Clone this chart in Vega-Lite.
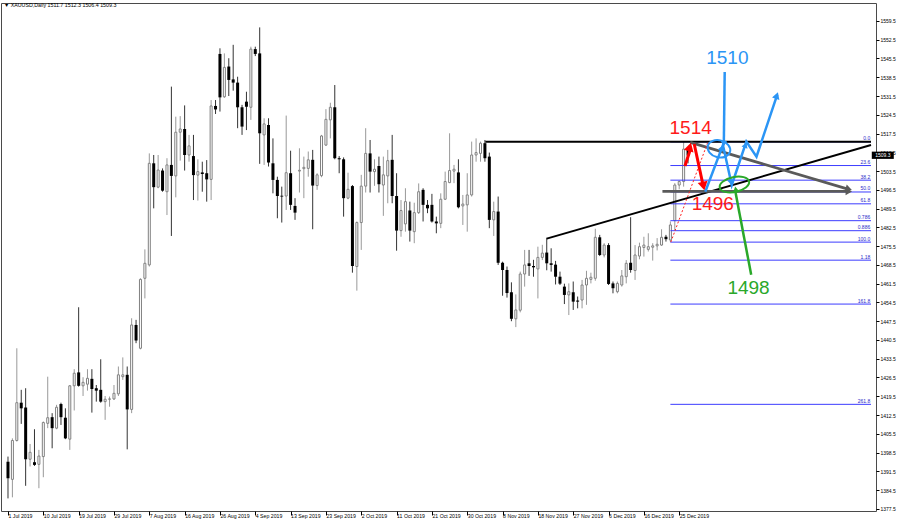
{
"$schema":"https://vega.github.io/schema/vega-lite/v6.json",
"width":875,"height":508,
"autosize":{"type":"none"},
"padding":{"left":1,"top":3,"right":24,"bottom":14},
"background":"#ffffff",
"config":{"view":{"stroke":"#4a4a4a","strokeWidth":1},"font":"Liberation Sans"},
"title":{"text":"▼ XAUUSD,Daily  1511.7 1512.3 1506.4 1509.3","anchor":"start","frame":"group","offset":-5,"dx":3,"fontSize":5.3,"fontWeight":"normal","color":"#000000","font":"Liberation Sans"},
"datasets":{
"candles":[
{"t":0,"o":1395.1,"h":1397.0,"l":1381.4,"c":1388.9},
{"t":1,"o":1388.5,"h":1403.8,"l":1381.8,"c":1403.0},
{"t":2,"o":1403.0,"h":1437.4,"l":1402.6,"c":1417.1},
{"t":3,"o":1417.1,"h":1421.9,"l":1409.2,"c":1415.0},
{"t":4,"o":1415.3,"h":1422.5,"l":1386.1,"c":1396.0},
{"t":5,"o":1396.0,"h":1401.7,"l":1393.3,"c":1398.6},
{"t":6,"o":1394.9,"h":1407.2,"l":1393.5,"c":1393.9},
{"t":7,"o":1394.1,"h":1399.5,"l":1385.2,"c":1397.2},
{"t":8,"o":1397.0,"h":1410.1,"l":1389.3,"c":1409.7},
{"t":9,"o":1409.4,"h":1426.8,"l":1407.6,"c":1411.5},
{"t":10,"o":1411.7,"h":1413.2,"l":1400.1,"c":1407.6},
{"t":11,"o":1407.6,"h":1416.3,"l":1407.2,"c":1415.4},
{"t":12,"o":1416.6,"h":1417.1,"l":1408.8,"c":1411.7},
{"t":13,"o":1411.5,"h":1415.0,"l":1403.5,"c":1403.8},
{"t":14,"o":1403.5,"h":1423.7,"l":1399.5,"c":1423.4},
{"t":15,"o":1423.4,"h":1429.6,"l":1414.2,"c":1428.1},
{"t":16,"o":1428.4,"h":1452.7,"l":1423.1,"c":1423.4},
{"t":17,"o":1423.4,"h":1426.6,"l":1419.6,"c":1424.7},
{"t":18,"o":1424.0,"h":1429.6,"l":1421.6,"c":1426.2},
{"t":19,"o":1426.0,"h":1429.6,"l":1413.4,"c":1422.2},
{"t":20,"o":1422.5,"h":1423.7,"l":1417.5,"c":1421.6},
{"t":21,"o":1421.9,"h":1433.3,"l":1417.1,"c":1417.5},
{"t":22,"o":1417.5,"h":1419.6,"l":1410.7,"c":1418.4},
{"t":23,"o":1418.4,"h":1419.4,"l":1415.6,"c":1418.5},
{"t":24,"o":1418.5,"h":1423.7,"l":1418.1,"c":1420.6},
{"t":25,"o":1420.4,"h":1430.6,"l":1419.6,"c":1427.5},
{"t":26,"o":1426.8,"h":1434.0,"l":1425.6,"c":1427.5},
{"t":27,"o":1427.5,"h":1430.6,"l":1399.7,"c":1414.6},
{"t":28,"o":1414.6,"h":1448.6,"l":1413.2,"c":1446.1},
{"t":29,"o":1446.1,"h":1448.0,"l":1439.3,"c":1440.3},
{"t":30,"o":1437.4,"h":1463.5,"l":1437.0,"c":1463.1},
{"t":31,"o":1463.5,"h":1474.3,"l":1456.0,"c":1469.1},
{"t":32,"o":1468.5,"h":1510.1,"l":1467.9,"c":1506.4},
{"t":33,"o":1506.4,"h":1509.5,"l":1489.6,"c":1497.5},
{"t":34,"o":1497.5,"h":1509.5,"l":1497.1,"c":1503.9},
{"t":35,"o":1503.7,"h":1504.5,"l":1495.8,"c":1496.2},
{"t":36,"o":1495.8,"h":1508.3,"l":1487.1,"c":1505.8},
{"t":37,"o":1505.8,"h":1535.0,"l":1479.3,"c":1501.7},
{"t":38,"o":1501.7,"h":1523.8,"l":1493.7,"c":1518.0},
{"t":39,"o":1518.0,"h":1524.0,"l":1507.4,"c":1519.2},
{"t":40,"o":1519.2,"h":1528.0,"l":1503.7,"c":1509.5},
{"t":41,"o":1509.5,"h":1517.0,"l":1507.0,"c":1512.9},
{"t":42,"o":1509.1,"h":1517.0,"l":1492.7,"c":1502.0},
{"t":43,"o":1502.0,"h":1507.9,"l":1492.5,"c":1503.3},
{"t":44,"o":1503.0,"h":1507.0,"l":1495.8,"c":1502.4},
{"t":45,"o":1502.7,"h":1507.6,"l":1492.1,"c":1500.4},
{"t":46,"o":1500.4,"h":1530.0,"l":1492.7,"c":1527.8},
{"t":47,"o":1527.8,"h":1530.0,"l":1524.8,"c":1526.5},
{"t":48,"o":1547.2,"h":1549.3,"l":1525.7,"c":1531.0},
{"t":49,"o":1531.2,"h":1547.4,"l":1530.8,"c":1542.2},
{"t":50,"o":1542.5,"h":1545.6,"l":1531.5,"c":1537.5},
{"t":51,"o":1537.7,"h":1550.6,"l":1533.5,"c":1536.5},
{"t":52,"o":1536.5,"h":1538.7,"l":1519.5,"c":1527.3},
{"t":53,"o":1527.3,"h":1528.2,"l":1517.0,"c":1520.1},
{"t":54,"o":1529.4,"h":1533.1,"l":1518.8,"c":1527.5},
{"t":55,"o":1527.3,"h":1549.9,"l":1522.6,"c":1549.0},
{"t":56,"o":1549.0,"h":1549.9,"l":1546.4,"c":1547.2},
{"t":57,"o":1547.4,"h":1557.1,"l":1506.2,"c":1517.6},
{"t":58,"o":1517.0,"h":1523.2,"l":1505.8,"c":1521.1},
{"t":59,"o":1520.7,"h":1523.2,"l":1505.2,"c":1506.7},
{"t":60,"o":1506.4,"h":1515.7,"l":1495.2,"c":1500.2},
{"t":61,"o":1500.2,"h":1501.4,"l":1485.9,"c":1494.2},
{"t":62,"o":1494.3,"h":1497.7,"l":1484.3,"c":1494.0},
{"t":63,"o":1494.2,"h":1524.2,"l":1489.0,"c":1502.9},
{"t":64,"o":1502.7,"h":1511.1,"l":1489.0,"c":1490.9},
{"t":65,"o":1490.5,"h":1493.4,"l":1485.3,"c":1488.0},
{"t":66,"o":1503.5,"h":1512.0,"l":1495.5,"c":1503.8},
{"t":67,"o":1504.4,"h":1508.9,"l":1493.4,"c":1504.9},
{"t":68,"o":1504.5,"h":1510.8,"l":1501.4,"c":1507.7},
{"t":69,"o":1507.7,"h":1511.4,"l":1481.8,"c":1498.1},
{"t":70,"o":1498.1,"h":1502.7,"l":1496.5,"c":1502.1},
{"t":71,"o":1501.8,"h":1517.0,"l":1501.2,"c":1516.6},
{"t":72,"o":1513.2,"h":1526.6,"l":1512.9,"c":1522.8},
{"t":73,"o":1522.6,"h":1529.0,"l":1515.7,"c":1527.3},
{"t":74,"o":1527.3,"h":1535.6,"l":1507.9,"c":1508.3},
{"t":75,"o":1508.3,"h":1509.1,"l":1502.7,"c":1507.9},
{"t":76,"o":1507.9,"h":1508.6,"l":1486.5,"c":1493.4},
{"t":77,"o":1493.4,"h":1502.9,"l":1493.0,"c":1496.7},
{"t":78,"o":1497.9,"h":1498.3,"l":1465.6,"c":1468.1},
{"t":79,"o":1467.9,"h":1484.7,"l":1458.9,"c":1484.3},
{"t":80,"o":1484.3,"h":1502.1,"l":1474.1,"c":1497.9},
{"t":81,"o":1497.9,"h":1519.5,"l":1495.5,"c":1510.1},
{"t":82,"o":1510.1,"h":1515.1,"l":1495.5,"c":1503.3},
{"t":83,"o":1503.3,"h":1507.9,"l":1498.0,"c":1504.2},
{"t":84,"o":1505.4,"h":1508.9,"l":1495.5,"c":1498.6},
{"t":85,"o":1498.3,"h":1508.9,"l":1486.8,"c":1502.1},
{"t":86,"o":1501.7,"h":1511.4,"l":1491.5,"c":1507.4},
{"t":87,"o":1507.7,"h":1517.0,"l":1491.5,"c":1494.2},
{"t":88,"o":1494.2,"h":1502.7,"l":1473.8,"c":1481.3},
{"t":89,"o":1481.3,"h":1492.7,"l":1479.0,"c":1488.8},
{"t":90,"o":1483.8,"h":1497.1,"l":1480.9,"c":1492.1},
{"t":91,"o":1488.8,"h":1492.1,"l":1477.2,"c":1481.3},
{"t":92,"o":1480.9,"h":1491.7,"l":1476.6,"c":1488.0},
{"t":93,"o":1488.0,"h":1498.9,"l":1487.5,"c":1495.8},
{"t":94,"o":1496.5,"h":1497.1,"l":1484.7,"c":1490.9},
{"t":95,"o":1490.9,"h":1492.7,"l":1487.8,"c":1489.6},
{"t":96,"o":1490.9,"h":1495.0,"l":1484.3,"c":1484.7},
{"t":97,"o":1484.7,"h":1486.5,"l":1480.3,"c":1484.0},
{"t":98,"o":1484.0,"h":1495.2,"l":1482.2,"c":1493.0},
{"t":99,"o":1493.0,"h":1503.3,"l":1492.7,"c":1499.6},
{"t":100,"o":1499.2,"h":1517.6,"l":1499.0,"c":1503.7},
{"t":101,"o":1503.5,"h":1505.8,"l":1499.0,"c":1504.2},
{"t":102,"o":1503.0,"h":1507.9,"l":1489.6,"c":1490.0},
{"t":103,"o":1490.5,"h":1494.6,"l":1483.4,"c":1491.2},
{"t":104,"o":1490.9,"h":1502.7,"l":1480.9,"c":1494.6},
{"t":105,"o":1494.6,"h":1514.5,"l":1494.0,"c":1509.5},
{"t":106,"o":1509.5,"h":1515.7,"l":1507.0,"c":1510.4},
{"t":107,"o":1510.1,"h":1514.5,"l":1507.0,"c":1513.9},
{"t":108,"o":1513.9,"h":1515.1,"l":1507.0,"c":1508.3},
{"t":109,"o":1508.9,"h":1510.4,"l":1482.2,"c":1485.3},
{"t":110,"o":1485.3,"h":1492.1,"l":1479.3,"c":1488.4},
{"t":111,"o":1488.4,"h":1494.0,"l":1468.5,"c":1469.3},
{"t":112,"o":1469.3,"h":1469.7,"l":1457.0,"c":1466.6},
{"t":113,"o":1466.6,"h":1467.9,"l":1456.3,"c":1458.0},
{"t":114,"o":1458.3,"h":1462.0,"l":1447.5,"c":1448.4},
{"t":115,"o":1448.4,"h":1457.5,"l":1445.3,"c":1451.7},
{"t":116,"o":1451.6,"h":1466.0,"l":1450.8,"c":1465.1},
{"t":117,"o":1465.1,"h":1474.1,"l":1460.4,"c":1468.5},
{"t":118,"o":1469.1,"h":1474.1,"l":1464.4,"c":1468.1},
{"t":119,"o":1468.1,"h":1470.4,"l":1464.1,"c":1467.6},
{"t":120,"o":1467.0,"h":1475.3,"l":1456.0,"c":1471.3},
{"t":121,"o":1471.3,"h":1476.0,"l":1470.3,"c":1472.9},
{"t":122,"o":1473.1,"h":1478.6,"l":1466.5,"c":1469.1},
{"t":123,"o":1469.1,"h":1474.7,"l":1466.0,"c":1468.5},
{"t":124,"o":1468.6,"h":1470.0,"l":1461.2,"c":1464.1},
{"t":125,"o":1464.1,"h":1466.0,"l":1461.0,"c":1461.5},
{"t":126,"o":1460.4,"h":1461.5,"l":1453.9,"c":1457.3},
{"t":127,"o":1457.3,"h":1461.6,"l":1449.8,"c":1458.5},
{"t":128,"o":1458.3,"h":1462.3,"l":1451.7,"c":1454.8},
{"t":129,"o":1455.2,"h":1456.7,"l":1452.3,"c":1454.8},
{"t":130,"o":1455.4,"h":1462.9,"l":1452.3,"c":1461.0},
{"t":131,"o":1461.0,"h":1466.3,"l":1453.6,"c":1463.5},
{"t":132,"o":1463.1,"h":1465.6,"l":1461.6,"c":1463.9},
{"t":133,"o":1463.5,"h":1482.0,"l":1462.6,"c":1478.8},
{"t":134,"o":1478.8,"h":1479.7,"l":1471.8,"c":1472.2},
{"t":135,"o":1472.2,"h":1476.6,"l":1471.3,"c":1475.9},
{"t":136,"o":1475.9,"h":1476.6,"l":1461.0,"c":1461.4},
{"t":137,"o":1461.6,"h":1462.3,"l":1457.9,"c":1459.8},
{"t":138,"o":1458.5,"h":1462.3,"l":1457.9,"c":1461.6},
{"t":139,"o":1461.0,"h":1466.6,"l":1460.4,"c":1464.4},
{"t":140,"o":1464.1,"h":1470.3,"l":1461.6,"c":1469.1},
{"t":141,"o":1469.3,"h":1486.3,"l":1465.6,"c":1466.6},
{"t":142,"o":1466.4,"h":1475.9,"l":1462.9,"c":1472.2},
{"t":143,"o":1471.8,"h":1476.8,"l":1470.6,"c":1475.3},
{"t":144,"o":1475.0,"h":1479.0,"l":1471.6,"c":1475.9},
{"t":145,"o":1474.3,"h":1480.3,"l":1473.5,"c":1475.3},
{"t":146,"o":1475.1,"h":1476.6,"l":1470.1,"c":1475.6},
{"t":147,"o":1475.6,"h":1478.5,"l":1473.9,"c":1476.2},
{"t":148,"o":1475.9,"h":1481.8,"l":1475.6,"c":1478.8},
{"t":149,"o":1479.0,"h":1479.7,"l":1477.2,"c":1478.1},
{"t":150,"o":1477.8,"h":1484.7,"l":1477.0,"c":1483.4},
{"t":151,"o":1485.0,"h":1499.0,"l":1481.5,"c":1498.3},
{"t":152,"o":1498.3,"h":1500.0,"l":1496.7,"c":1499.6},
{"t":153,"o":1499.6,"h":1514.4,"l":1497.7,"c":1511.7},
{"t":154,"o":1511.7,"h":1512.3,"l":1506.4,"c":1509.3}
],
"fib":[
{"lvl":"0.0","p":1514.4,"t":195.43,"t0":150.0},
{"lvl":"23.6","p":1505.57,"t":195.43,"t0":150.0},
{"lvl":"38.2","p":1500.11,"t":195.43,"t0":150.0},
{"lvl":"50.0","p":1495.7,"t":195.43,"t0":150.0},
{"lvl":"61.8","p":1491.29,"t":195.43,"t0":150.0},
{"lvl":"0.786","p":1485.0,"t":195.43,"t0":150.0},
{"lvl":"0.886","p":1481.26,"t":195.43,"t0":150.0},
{"lvl":"100.0","p":1477.0,"t":195.43,"t0":150.0},
{"lvl":"1.18","p":1470.27,"t":195.43,"t0":150.0},
{"lvl":"161.8","p":1453.89,"t":195.43,"t0":150.0},
{"lvl":"261.8","p":1416.49,"t":195.43,"t0":150.0}
],
"lines":[
{"g":"res","t":108.1,"p":1514.4},{"g":"res","t":195.43,"p":1514.4},
{"g":"trend","t":122.0,"p":1478.3},{"g":"trend","t":195.43,"p":1513.2},
{"g":"gd","t":154.5,"p":1514.2},{"g":"gd","t":190.6,"p":1496.6},
{"g":"gh","t":148.2,"p":1495.9},{"g":"gh","t":190.6,"p":1495.9},
{"g":"ru","t":153.3,"p":1505.4},{"g":"ru","t":154.6,"p":1512.0},
{"g":"rd","t":155.4,"p":1513.6},{"g":"rd","t":157.3,"p":1499.0},
{"g":"rdot","t":150.1,"p":1477.0},{"g":"rdot","t":158.5,"p":1514.4},
{"g":"bz","t":157.9,"p":1495.8},{"g":"bz","t":161.9,"p":1513.2},{"g":"bz","t":163.9,"p":1498.3},{"g":"bz","t":167.2,"p":1514.5},{"g":"bz","t":169.5,"p":1508.9},{"g":"bz","t":174.2,"p":1532.0},
{"g":"bv","t":162.3,"p":1540.5},{"g":"bv","t":162.1,"p":1513.5},
{"g":"gr","t":164.7,"p":1496.0},{"g":"gr","t":168.3,"p":1464.8}
],
"heads":[
{"id":"gh","t":190.4,"p":1495.9},
{"id":"gd","t":190.4,"p":1496.8},
{"id":"ru","t":154.4,"p":1512.5},
{"id":"rd","t":157.5,"p":1497.9},
{"id":"b7","t":174.1,"p":1531.7},
{"id":"b5","t":167.0,"p":1513.2},
{"id":"b2","t":161.6,"p":1512.1},
{"id":"b4","t":163.7,"p":1499.3},
{"id":"bv","t":162.1,"p":1513.7},
{"id":"gr","t":164.8,"p":1496.6}
],
"rings":[
{"id":"blue","t":161.0,"p":1511.8},
{"id":"green","t":164.5,"p":1498.5}
],
"notes":[
{"s":"1514","k":"red","t":154.6,"p":1519.4},
{"s":"1496","k":"red","t":159.6,"p":1491.1},
{"s":"1510","k":"blue","t":162.9,"p":1545.7},
{"s":"1498","k":"green","t":167.7,"p":1459.9}
],
"last":[{"p":1509.4,"s":"1509.3","t":198.1}]
},
"encoding":{
"x":{"field":"t","type":"quantitative","scale":{"domain":[-0.45,195.43],"nice":false,"zero":false},
 "axis":{"values":[0,8,16,24,32,40,48,56,64,72,80,88,96,104,112,120,128,136,144,152],
 "labelExpr":"['1 Jul 2019','10 Jul 2019','19 Jul 2019','29 Jul 2019','7 Aug 2019','16 Aug 2019','26 Aug 2019','4 Sep 2019','13 Sep 2019','23 Sep 2019','2 Oct 2019','11 Oct 2019','21 Oct 2019','30 Oct 2019','8 Nov 2019','18 Nov 2019','27 Nov 2019','6 Dec 2019','16 Dec 2019','25 Dec 2019'][round(datum.value/8)]",
 "labelAlign":"left","labelBaseline":"top","labelPadding":-2,"labelDx":1,"tickSize":4,"tickColor":"#000000","labelColor":"#000000","labelFontSize":5.2,"labelFont":"Liberation Sans","domain":false,"grid":false,"title":null,"labelOverlap":false,"labelFlush":false,"labelBound":false}},
"y":{"field":"p","type":"quantitative","scale":{"domain":[1376.7,1566.2],"nice":false,"zero":false},
 "axis":{"orient":"right","values":[1377.5,1384.5,1391.5,1398.5,1405.5,1412.5,1419.5,1426.5,1433.5,1440.5,1447.5,1454.5,1461.5,1468.5,1475.5,1482.5,1489.5,1496.5,1503.5,1510.5,1517.5,1524.5,1531.5,1538.5,1545.5,1552.5,1559.5],
 "format":".1f","labelFontSize":5,"labelFont":"Liberation Sans","labelColor":"#000000","tickColor":"#000000","tickSize":3,"labelPadding":1,"labelBaseline":"middle","domain":false,"grid":false,"title":null,"labelOverlap":false,"labelFlush":false,"labelBound":false}}
},
"layer":[
{"data":{"name":"candles"},"mark":{"type":"rule","strokeWidth":1},
 "encoding":{
 "y":{"field":"l","type":"quantitative","scale":{"domain":[1376.7,1566.2],"nice":false,"zero":false},
 "axis":{"orient":"right","values":[1377.5,1384.5,1391.5,1398.5,1405.5,1412.5,1419.5,1426.5,1433.5,1440.5,1447.5,1454.5,1461.5,1468.5,1475.5,1482.5,1489.5,1496.5,1503.5,1510.5,1517.5,1524.5,1531.5,1538.5,1545.5,1552.5,1559.5],
 "format":".1f","labelFontSize":5,"labelFont":"Liberation Sans","labelColor":"#000000","tickColor":"#000000","tickSize":3,"labelPadding":1,"labelBaseline":"middle","domain":false,"grid":false,"title":null,"labelOverlap":false,"labelFlush":false,"labelBound":false}},
 "y2":{"field":"h"},
 "color":{"condition":{"test":"datum.c >= datum.o","value":"#999999"},"value":"#333333"}}},
{"data":{"name":"candles"},"transform":[{"filter":"datum.c >= datum.o"}],"mark":{"type":"bar","size":2,"fill":"#ffffff","stroke":"#808080","strokeWidth":1},
 "encoding":{"y":{"field":"o","type":"quantitative","scale":{"domain":[1376.7,1566.2],"nice":false,"zero":false},
 "axis":{"orient":"right","values":[1377.5,1384.5,1391.5,1398.5,1405.5,1412.5,1419.5,1426.5,1433.5,1440.5,1447.5,1454.5,1461.5,1468.5,1475.5,1482.5,1489.5,1496.5,1503.5,1510.5,1517.5,1524.5,1531.5,1538.5,1545.5,1552.5,1559.5],
 "format":".1f","labelFontSize":5,"labelFont":"Liberation Sans","labelColor":"#000000","tickColor":"#000000","tickSize":3,"labelPadding":1,"labelBaseline":"middle","domain":false,"grid":false,"title":null,"labelOverlap":false,"labelFlush":false,"labelBound":false}},"y2":{"field":"c"}}},
{"data":{"name":"candles"},"transform":[{"filter":"datum.c < datum.o"}],"mark":{"type":"bar","size":3,"fill":"#000000"},
 "encoding":{"y":{"field":"o","type":"quantitative","scale":{"domain":[1376.7,1566.2],"nice":false,"zero":false},
 "axis":{"orient":"right","values":[1377.5,1384.5,1391.5,1398.5,1405.5,1412.5,1419.5,1426.5,1433.5,1440.5,1447.5,1454.5,1461.5,1468.5,1475.5,1482.5,1489.5,1496.5,1503.5,1510.5,1517.5,1524.5,1531.5,1538.5,1545.5,1552.5,1559.5],
 "format":".1f","labelFontSize":5,"labelFont":"Liberation Sans","labelColor":"#000000","tickColor":"#000000","tickSize":3,"labelPadding":1,"labelBaseline":"middle","domain":false,"grid":false,"title":null,"labelOverlap":false,"labelFlush":false,"labelBound":false}},"y2":{"field":"c"}}},
{"data":{"name":"fib"},"mark":{"type":"rule","color":"#3c3cff","strokeWidth":1},
 "encoding":{"x2":{"field":"t0"}}},
{"data":{"name":"fib"},"mark":{"type":"text","align":"right","baseline":"bottom","dx":-0.8,"dy":-0.5,"fontSize":5,"color":"#2a2ac8","font":"Liberation Sans"},
 "encoding":{"text":{"field":"lvl"}}},
{"data":{"name":"lines"},"transform":[{"filter":"datum.g == 'res' || datum.g == 'trend'"}],"mark":{"type":"line","color":"#000000","strokeWidth":2},
 "encoding":{"detail":{"field":"g"}}},
{"data":{"name":"lines"},"transform":[{"filter":"datum.g == 'gd' || datum.g == 'gh'"}],"mark":{"type":"line","color":"#5a5a5a","strokeWidth":2.8},
 "encoding":{"detail":{"field":"g"}}},
{"data":{"name":"lines"},"transform":[{"filter":"datum.g == 'rdot'"}],"mark":{"type":"line","color":"#ff2020","strokeWidth":1,"strokeDash":[2,2]},
 "encoding":{"detail":{"field":"g"}}},
{"data":{"name":"lines"},"transform":[{"filter":"datum.g == 'ru' || datum.g == 'rd'"}],"mark":{"type":"line","color":"#ff0000","strokeWidth":3},
 "encoding":{"detail":{"field":"g"}}},
{"data":{"name":"lines"},"transform":[{"filter":"datum.g == 'bz' || datum.g == 'bv'"}],"mark":{"type":"line","color":"#2b95f5","strokeWidth":2.5},
 "encoding":{"detail":{"field":"g"}}},
{"data":{"name":"lines"},"transform":[{"filter":"datum.g == 'gr'"}],"mark":{"type":"line","color":"#2aa82a","strokeWidth":2.5},
 "encoding":{"detail":{"field":"g"}}},
{"data":{"name":"rings"},"transform":[{"filter":"datum.id == 'blue'"}],"mark":{"type":"point","shape":"M -1 0 A 1 0.74 0 1 1 1 0 A 1 0.74 0 1 1 -1 0 Z","size":529,"angle":15,"filled":false,"stroke":"#2b95f5","strokeWidth":2,"opacity":1}},
{"data":{"name":"rings"},"transform":[{"filter":"datum.id == 'green'"}],"mark":{"type":"point","shape":"M -1 0 A 1 0.5 0 1 1 1 0 A 1 0.5 0 1 1 -1 0 Z","size":900,"angle":348,"filled":false,"stroke":"#2aa82a","strokeWidth":2,"opacity":1}},
{"data":{"name":"heads"},"transform":[{"filter":"datum.id == 'gh'"}],"mark":{"type":"point","shape":"triangle-up","size":55,"angle":90,"filled":true,"color":"#5a5a5a","opacity":1}},
{"data":{"name":"heads"},"transform":[{"filter":"datum.id == 'gd'"}],"mark":{"type":"point","shape":"triangle-up","size":55,"angle":106,"filled":true,"color":"#5a5a5a","opacity":1}},
{"data":{"name":"heads"},"transform":[{"filter":"datum.id == 'ru'"}],"mark":{"type":"point","shape":"triangle-up","size":100,"angle":15,"filled":true,"color":"#ff0000","opacity":1}},
{"data":{"name":"heads"},"transform":[{"filter":"datum.id == 'rd'"}],"mark":{"type":"point","shape":"triangle-up","size":100,"angle":168,"filled":true,"color":"#ff0000","opacity":1}},
{"data":{"name":"heads"},"transform":[{"filter":"datum.id == 'b7'"}],"mark":{"type":"point","shape":"triangle-up","size":60,"angle":19,"filled":true,"color":"#2b95f5","opacity":1}},
{"data":{"name":"heads"},"transform":[{"filter":"datum.id == 'b5' || datum.id == 'b2'"}],"mark":{"type":"point","shape":"triangle-up","size":40,"angle":20,"filled":true,"color":"#2b95f5","opacity":1}},
{"data":{"name":"heads"},"transform":[{"filter":"datum.id == 'b4'"}],"mark":{"type":"point","shape":"triangle-up","size":40,"angle":167,"filled":true,"color":"#2b95f5","opacity":1}},
{"data":{"name":"heads"},"transform":[{"filter":"datum.id == 'bv'"}],"mark":{"type":"point","shape":"triangle-up","size":40,"angle":180,"filled":true,"color":"#2b95f5","opacity":1}},
{"data":{"name":"heads"},"transform":[{"filter":"datum.id == 'gr'"}],"mark":{"type":"point","shape":"triangle-up","size":50,"angle":349,"filled":true,"color":"#2aa82a","opacity":1}},
{"data":{"name":"notes"},"transform":[{"filter":"datum.k == 'red'"}],"mark":{"type":"text","fontSize":19,"font":"Liberation Sans","color":"#ff1a1a","align":"center","baseline":"middle"},
 "encoding":{"text":{"field":"s"}}},
{"data":{"name":"notes"},"transform":[{"filter":"datum.k == 'blue'"}],"mark":{"type":"text","fontSize":19,"font":"Liberation Sans","color":"#2b95f5","align":"center","baseline":"middle"},
 "encoding":{"text":{"field":"s"}}},
{"data":{"name":"notes"},"transform":[{"filter":"datum.k == 'green'"}],"mark":{"type":"text","fontSize":19,"font":"Liberation Sans","color":"#2aa82a","align":"center","baseline":"middle"},
 "encoding":{"text":{"field":"s"}}},
{"data":{"name":"last"},"mark":{"type":"point","shape":"M -1 -0.33 L 1 -0.33 L 1 0.33 L -1 0.33 Z","size":484,"filled":true,"color":"#000000","opacity":1}},
{"data":{"name":"last"},"mark":{"type":"text","color":"#ffffff","fontSize":5,"font":"Liberation Sans","align":"center","baseline":"middle"},
 "encoding":{"text":{"field":"s"}}}
]
}
